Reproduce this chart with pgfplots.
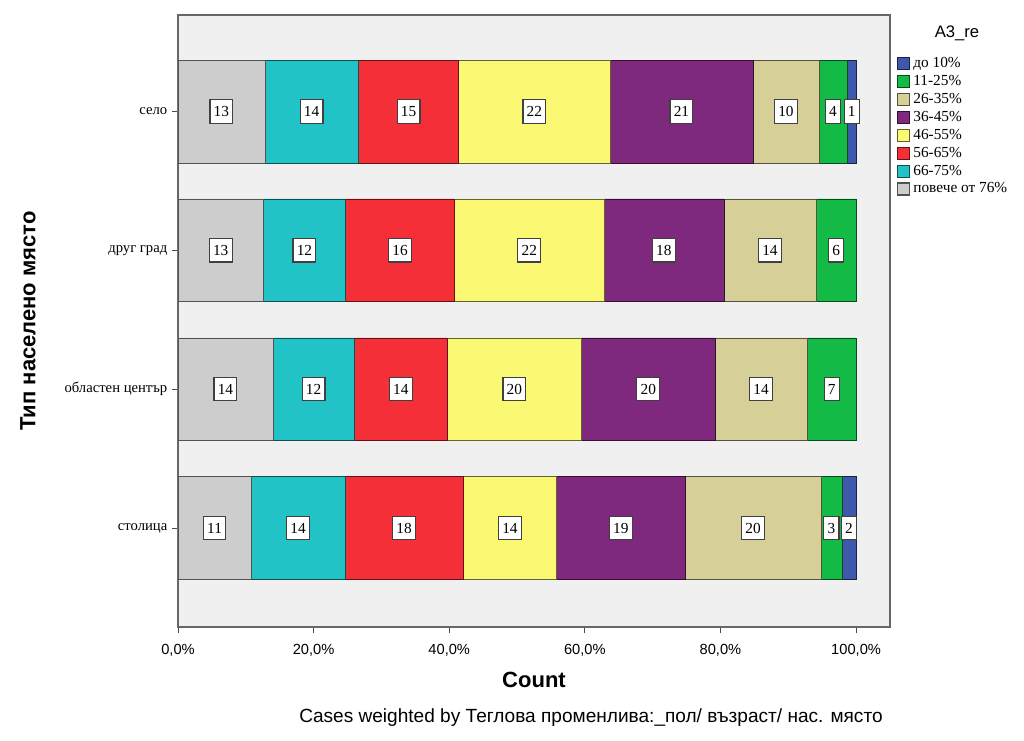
\documentclass[border=0pt]{standalone}
\usepackage{fontspec}
\setmainfont{Liberation Sans}
\newfontfamily\serif{Liberation Serif}
\usepackage{pgfplots}
\pgfplotsset{compat=1.18}
\definecolor{cgray}{HTML}{CDCDCD}
\definecolor{ccyan}{HTML}{22C3C6}
\definecolor{cred}{HTML}{F52F38}
\definecolor{cyellow}{HTML}{FBF873}
\definecolor{cpurple}{HTML}{7E287E}
\definecolor{ctan}{HTML}{D6CF98}
\definecolor{cgreen}{HTML}{14BA46}
\definecolor{cblue}{HTML}{3E58AC}
\begin{document}
\begin{tikzpicture}
\begin{axis}[name=ax, scale only axis, width=534pt, height=459pt,
  xbar stacked, bar width=0.74,
  xmin=0, xmax=105, ymin=-0.713, ymax=3.695,
  ytick={0,1,2,3},
  yticklabels={столица, областен център, друг град, село},
  xtick={0,20,40,60,80,100},
  xticklabels={{0,0\%},{20,0\%},{40,0\%},{60,0\%},{80,0\%},{100,0\%}},
  tick pos=left, tick align=outside, major tick length=4.5pt,
  tick style={black!70, line width=0.6pt},
  axis background/.style={fill=black!6},
  axis line style={draw=black!60, line width=1.1pt},
  y tick label style={font=\serif\fontsize{11}{13}\selectfont},
  x tick label style={font=\fontsize{11}{13}\selectfont, yshift=-5pt},
  xlabel={Count},
  every axis x label/.style={font=\bfseries\fontsize{16.5}{19}\selectfont, at={(rel axis cs:0.5,0)}, yshift=-39.75pt, anchor=center},
  ylabel={Тип населено място},
  every axis y label/.style={font=\bfseries\fontsize{16.5}{19}\selectfont, at={(rel axis cs:0,0.5)}, xshift=-112.5pt, rotate=90, anchor=center},
  point meta=explicit symbolic,
  nodes near coords,
  every node near coord/.append style={font=\serif\fontsize{11.5}{13}\selectfont, fill=white, draw=black!75, line width=0.9pt, inner xsep=2.8pt, inner ysep=0pt, minimum height=17.5pt, text=black},
  reverse legend,
  legend cell align=left,
  legend style={at={(1,1)}, anchor=north west, xshift=5pt, yshift=-31pt, draw=none, fill=none, inner sep=0pt, row sep=2.4pt, column sep=2pt,
    font=\serif\fontsize{11.5}{13}\selectfont,
    nodes={inner sep=0.5pt, text height=8pt, text depth=2pt}},
  legend image code/.code={\draw[#1, line width=0.8pt] (0pt,-4.5pt) rectangle (9pt,4.5pt);},
]
\addplot[fill=cgray, draw=cgray!40!black] coordinates {(12.8,3) [13] (10.8,0) [11] (12.6,2) [13] (14.0,1) [14]};
\addlegendentry{повече от 76\%}
\addplot[fill=ccyan, draw=ccyan!40!black] coordinates {(13.8,3) [14] (13.8,0) [14] (12.1,2) [12] (12.0,1) [12]};
\addlegendentry{66-75\%}
\addplot[fill=cred, draw=cred!40!black] coordinates {(14.8,3) [15] (17.5,0) [18] (16.1,2) [16] (13.7,1) [14]};
\addlegendentry{56-65\%}
\addplot[fill=cyellow, draw=cyellow!40!black] coordinates {(22.3,3) [22] (13.7,0) [14] (22.0,2) [22] (19.8,1) [20]};
\addlegendentry{46-55\%}
\addplot[fill=cpurple, draw=cpurple!40!black] coordinates {(21.1,3) [21] (19.0,0) [19] (17.7,2) [18] (19.7,1) [20]};
\addlegendentry{36-45\%}
\addplot[fill=ctan, draw=ctan!40!black] coordinates {(9.7,3) [10] (20.0,0) [20] (13.6,2) [14] (13.6,1) [14]};
\addlegendentry{26-35\%}
\addplot[fill=cgreen, draw=cgreen!40!black] coordinates {(4.2,3) [4] (3.1,0) [3] (5.9,2) [6] (7.2,1) [7]};
\addlegendentry{11-25\%}
\addplot[fill=cblue, draw=cblue!40!black] coordinates {(1.3,3) [1] (2.1,0) [2]};
\addlegendentry{до 10\%}
\end{axis}
\node[font=\fontsize{12.5}{15}\selectfont] at ([xshift=50.25pt,yshift=-13.5pt]ax.north east) {A3\_re};
\node[font=\fontsize{14.3}{17}\selectfont] at ([xshift=309.75pt,yshift=-68.25pt]ax.south west) {Cases weighted by Теглова променлива:\_пол/ възраст/ нас. място};
\path[use as bounding box] ([shift={(-133.5pt,-84.75pt)}]ax.south west) rectangle ([shift={(100.5pt,11.25pt)}]ax.north east);
\end{tikzpicture}
\end{document}
